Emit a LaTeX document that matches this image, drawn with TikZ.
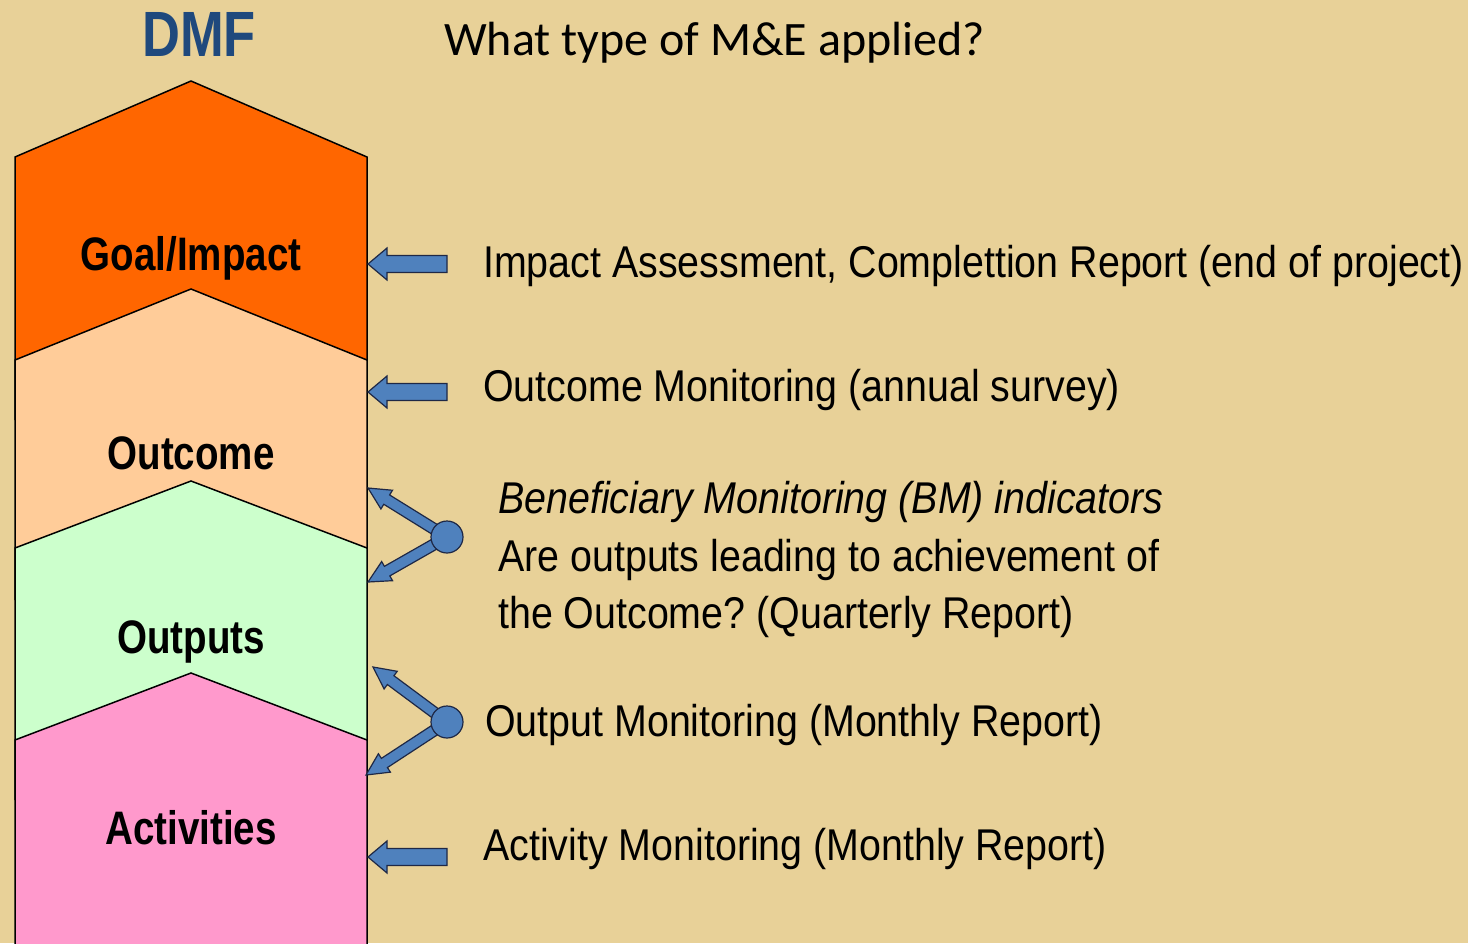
\documentclass[tikz,border=0pt]{standalone}
\usepackage{fontspec}
\usetikzlibrary{calc}
\newfontfamily\narrow[FakeStretch=0.82]{Liberation Sans}
\newfontfamily\narrowtext[FakeStretch=0.885]{Liberation Sans}
\newfontfamily\calib{Carlito}
\frenchspacing
\definecolor{bgtan}{RGB}{232,209,152}
\definecolor{goalc}{RGB}{255,102,0}
\definecolor{outcomec}{RGB}{255,204,153}
\definecolor{outputc}{RGB}{204,255,204}
\definecolor{actc}{RGB}{255,153,204}
\definecolor{arrfill}{RGB}{79,129,189}
\definecolor{arrline}{RGB}{30,40,70}
\definecolor{dmfc}{RGB}{31,73,125}
\tikzset{
  layer/.style={draw=black, line width=1.5pt, line join=miter},
  barrow/.style={fill=arrfill, draw=arrline, line width=1.2pt, line join=miter},
  hub/.style={circle, fill=arrfill, draw=arrline, line width=1.2pt, minimum size=32pt, inner sep=0pt},
  lbl/.style={font=\narrow\bfseries\fontsize{47}{56}\selectfont, anchor=base},
  rtxt/.style={font=\narrowtext\fontsize{44.5}{54}\selectfont, anchor=base west, inner sep=0pt},
}
\newcommand\blockarrow[5]{%
  \draw[barrow] let \p1=($(#2)!#3!(#1)$) in
    (#2) -- ($(\p1)!#4!90:(#1)$) -- ($(\p1)!#5!90:(#1)$)
    -- ($(#1)!#5!-90:(#2)$) -- ($(#1)!#5!90:(#2)$)
    -- ($(\p1)!#5!-90:(#1)$) -- ($(\p1)!#4!-90:(#1)$) -- cycle;}
\begin{document}
\begin{tikzpicture}[x=1pt,y=-1pt]
\fill[bgtan] (0,0) rectangle (1468,943);
\useasboundingbox (0,0) rectangle (1468,943);
\begin{scope}
\clip (0,0) rectangle (1468,943);
% layers
\draw[layer, fill=goalc] (15,420) -- (15,157) -- (191,81) -- (367,157) -- (367,420);
\draw[layer, fill=outcomec] (15,600) -- (15,360) -- (191,289) -- (367,360) -- (367,600);
\draw[layer, fill=outputc] (15,800) -- (15,548) -- (191,481) -- (367,548) -- (367,800);
\draw[layer, fill=actc] (15,960) -- (15,740) -- (191,673) -- (367,740) -- (367,960);
\end{scope}
% layer labels
\node[lbl] (goal) at (191,270) {Goal/Impact};
\node[lbl] (outcome) at (191,469) {Outcome};
\node[lbl] (outputs) at (191,653) {Outputs};
\node[lbl] (activities) at (191,844) {Activities};
% header
\node[font=\narrow\bfseries\fontsize{64}{72}\selectfont, text=dmfc, anchor=base] (dmf) at (199,56) {DMF};
\node[font=\calib\fontsize{48}{56}\selectfont, anchor=base west, inner sep=0pt] (title) at (444,55) {What type of M\&E applied?};
% straight arrows
\coordinate (a1s) at (447,264); \coordinate (a1t) at (368,264);
\coordinate (a2s) at (447,392); \coordinate (a2t) at (368,392);
\coordinate (a5s) at (447,857); \coordinate (a5t) at (368,857);
\blockarrow{a1s}{a1t}{19pt}{16pt}{8.5pt}
\blockarrow{a2s}{a2t}{19pt}{16pt}{8.5pt}
\blockarrow{a5s}{a5t}{19pt}{16pt}{8.5pt}
% forked arrows
\coordinate (h1) at (447,537); \coordinate (h2) at (447,722);
\coordinate (b1) at (368,488); \coordinate (b2) at (368,582);
\coordinate (b3) at (373,667); \coordinate (b4) at (366,775);
\blockarrow{h1}{b1}{22pt}{11pt}{5.5pt}
\blockarrow{h1}{b2}{22pt}{11pt}{5.5pt}
\blockarrow{h2}{b3}{22pt}{11pt}{5.5pt}
\blockarrow{h2}{b4}{22pt}{11pt}{5.5pt}
\node[hub] (hub1) at (h1) {};
\node[hub] (hub2) at (h2) {};
% right texts
\node[rtxt] (t1) at (483,277) {Impact Assessment, Complettion Report (end of project)};
\node[rtxt] (t2) at (483,401) {Outcome Monitoring (annual survey)};
\node[rtxt] (t3a) at (498,513) {\itshape Beneficiary Monitoring (BM) indicators};
\node[rtxt] (t3b) at (498,571) {Are outputs leading to achievement of};
\node[rtxt] (t3c) at (498,628) {the Outcome? (Quarterly Report)};
\node[rtxt] (t4) at (485,736) {Output Monitoring (Monthly Report)};
\node[rtxt] (t5) at (483,860) {Activity Monitoring (Monthly Report)};
\end{tikzpicture}
\end{document}
